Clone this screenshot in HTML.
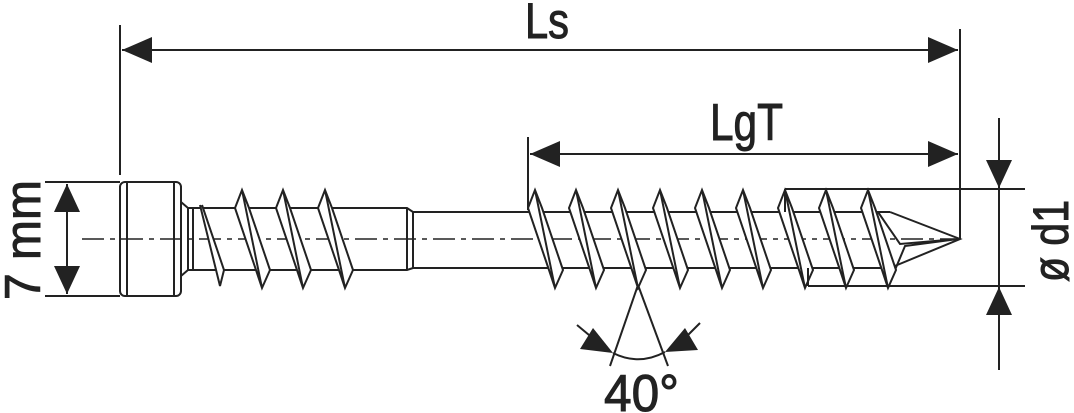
<!DOCTYPE html>
<html><head><meta charset="utf-8"><style>
html,body{margin:0;padding:0;background:#fff;width:1074px;height:413px;overflow:hidden}
svg{display:block}
text{font-family:"Liberation Sans",sans-serif;fill:#222;stroke:#222;stroke-width:1}
</style></head><body>
<svg width="1074" height="413" viewBox="0 0 1074 413" xmlns="http://www.w3.org/2000/svg">
<g stroke="#222" stroke-width="2" fill="none">
<line x1="120" y1="25" x2="120" y2="175"/>
<line x1="960" y1="29" x2="960" y2="239"/>
<line x1="122" y1="50" x2="958" y2="50"/>
<line x1="528" y1="137" x2="528" y2="210"/>
<line x1="530" y1="154" x2="958" y2="154"/>
<line x1="45" y1="182" x2="120" y2="182"/>
<line x1="45" y1="296" x2="120" y2="296"/>
<line x1="67" y1="184" x2="67" y2="294"/>
<line x1="785" y1="189" x2="1025" y2="189"/>
<line x1="808" y1="286" x2="1025" y2="286"/>
<line x1="999" y1="118" x2="999" y2="370"/>
<rect x="120" y="182" width="61" height="114" rx="5"/>
<line x1="127" y1="183" x2="127" y2="295"/>
<line x1="174" y1="183" x2="174" y2="295"/>
<polyline points="181,202 188,208 407,208 413,212 528,212"/>
<polyline points="181,276 188,270 407,270 413,268 528,268"/>
<line x1="188" y1="208" x2="188" y2="270"/>
<line x1="193" y1="208" x2="193" y2="270"/>
<line x1="407" y1="208" x2="407" y2="270"/>
<line x1="413" y1="212" x2="413" y2="268"/>
<line x1="500" y1="212" x2="890" y2="212"/>
<line x1="500" y1="268" x2="890" y2="268"/>
<polyline points="890,212 960,239 890,268"/>
<polyline points="878,212 900,244 958,239 905,246 895,270"/>
<line x1="82" y1="239" x2="955" y2="239" stroke-width="1.5" stroke-dasharray="22,6,5,6"/>
</g>
<g stroke="#222" stroke-width="2" fill="#fff" stroke-linejoin="miter">
<path d="M200,205 L220,286 L224,270 L202,205"/>
<path id="t" d="M242,190 L249,208 L270,270 L262,288 L256,270 L235,208 Z M242,190 L262,288"/>
<use href="#t" x="41"/>
<use href="#t" x="83"/>
<use href="#t" x="293"/>
<use href="#t" x="334"/>
<use href="#t" x="376"/>
<use href="#t" x="418"/>
<use href="#t" x="460"/>
<use href="#t" x="501"/>
<use href="#t" x="543"/>
<use href="#t" x="584"/>
<use href="#t" x="626"/>
</g>
<g stroke="#222" stroke-width="2" fill="none">
<line x1="785" y1="189" x2="785" y2="212"/>
<line x1="808" y1="268" x2="808" y2="286"/>
<line x1="638" y1="285" x2="610" y2="366"/>
<line x1="638" y1="285" x2="668" y2="366"/>
<path d="M613,353 Q639,366 665,352"/>
<line x1="577" y1="325" x2="595" y2="340"/>
<line x1="700" y1="323" x2="683" y2="340"/>
</g>
<g fill="#222">
<polygon points="122,50 152,37 152,63"/>
<polygon points="958,50 928,37 928,63"/>
<polygon points="530,154 560,141 560,167"/>
<polygon points="958,154 928,141 928,167"/>
<polygon points="67,184 54,212 80,212"/>
<polygon points="67,294 54,266 80,266"/>
<polygon points="999,188 986,160 1012,160"/>
<polygon points="999,287 986,315 1012,315"/>
<polygon points="613,353 580,349 593,328"/>
<polygon points="665,352 698,350 685,328"/>
</g>
<text x="525" y="38" font-size="50" textLength="44" lengthAdjust="spacingAndGlyphs">Ls</text>
<text x="710" y="140" font-size="52" textLength="73" lengthAdjust="spacingAndGlyphs">LgT</text>
<text x="604" y="411" font-size="52" textLength="75" lengthAdjust="spacingAndGlyphs">40°</text>
<text transform="translate(40,300) rotate(-90)" font-size="50" textLength="120" lengthAdjust="spacingAndGlyphs">7 mm</text>
<text transform="translate(1068,282) rotate(-90)" font-size="50" textLength="82" lengthAdjust="spacingAndGlyphs">ø d1</text>
</svg>
</body></html>
